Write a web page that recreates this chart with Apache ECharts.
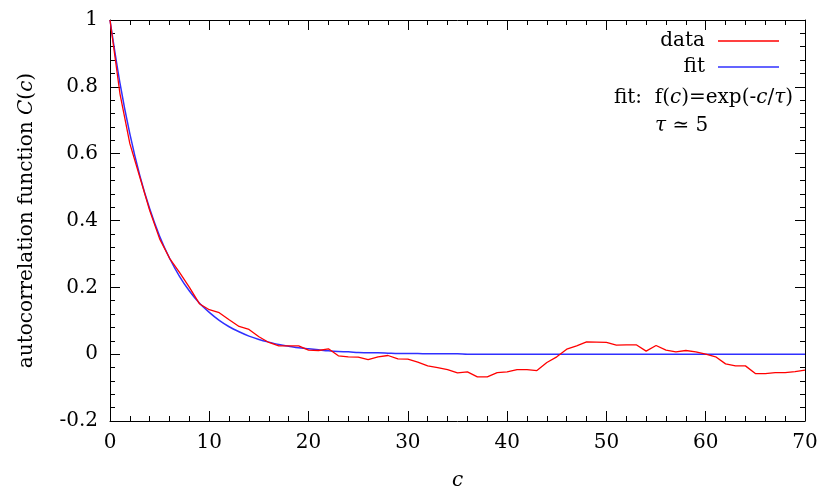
<!DOCTYPE html>
<html>
<head>
<meta charset="utf-8">
<script src="https://cdn.jsdelivr.net/npm/echarts@6/dist/echarts.min.js"></script>
<style>
html,body{margin:0;padding:0;background:#fff;}
#chart{width:819px;height:493px;}
</style>
</head>
<body>
<div id="chart"></div>
<script>
// lag values c
var cValues = [0,1,2,3,4,5,6,7,8,9,10,11,12,13,14,15,16,17,18,19,20,21,22,23,24,25,26,27,28,29,30,31,32,33,34,35,36,37,38,39,40,41,42,43,44,45,46,47,48,49,50,51,52,53,54,55,56,57,58,59,60,61,62,63,64,65,66,67,68,69,70];
var dataValues = [1.0,0.78,0.63,0.53,0.43,0.345,0.287,0.245,0.20,0.151,0.133,0.124,0.103,0.083,0.074,0.052,0.035,0.025,0.025,0.025,0.012,0.011,0.016,-0.005,-0.008,-0.009,-0.016,-0.008,-0.004,-0.014,-0.015,-0.024,-0.035,-0.040,-0.046,-0.056,-0.053,-0.068,-0.068,-0.055,-0.053,-0.046,-0.046,-0.049,-0.025,-0.008,0.015,0.025,0.037,0.036,0.035,0.027,0.028,0.028,0.009,0.026,0.012,0.007,0.011,0.007,0.000,-0.008,-0.029,-0.035,-0.035,-0.058,-0.058,-0.055,-0.055,-0.052,-0.048];
// fit curve values
var fitValues = [1.000,0.812,0.659,0.535,0.435,0.353,0.287,0.233,0.189,0.153,0.125,0.101,0.082,0.067,0.054,0.044,0.036,0.029,0.024,0.019,0.016,0.013,0.010,0.008,0.007,0.005,0.004,0.004,0.003,0.002,0.002,0.002,0.001,0.001,0.001,0.001,0,0,0,0,0,0,0,0,0,0,0,0,0,0,0,0,0,0,0,0,0,0,0,0,0,0,0,0,0,0,0,0,0,0,0];
var xTicks = {min:0, max:70, interval:10};
var yTicks = {min:-0.2, max:1, interval:0.2};

var FONT = 'DejaVu Serif';
var FS = 20;
function pairs(ys){ return cValues.map(function(c,i){ return [c, ys[i]]; }); }

var chart = echarts.init(document.getElementById('chart'), null, {renderer:'canvas'});

var axisCommon = {
  axisLine:{show:true, onZero:false, lineStyle:{color:'#000', width:1}},
  axisTick:{show:true, inside:true, length:10, lineStyle:{color:'#000', width:1}},
  minorTick:{show:true, splitNumber:5, length:5, lineStyle:{color:'#000', width:1}},
  splitLine:{show:false},
  minorSplitLine:{show:false}
};

function xAxis(pos, labels){
  return Object.assign({
    type:'value', position:pos, min:xTicks.min, max:xTicks.max, interval:xTicks.interval,
    axisLabel:{show:labels, color:'#000', fontFamily:FONT, fontSize:FS, margin:12},
  }, axisCommon);
}
function yAxis(pos, labels){
  return Object.assign({
    type:'value', position:pos, min:yTicks.min, max:yTicks.max, interval:yTicks.interval,
    axisLabel:{show:labels, color:'#000', fontFamily:FONT, fontSize:FS, margin:12,
      formatter:function(v){ return String(Math.round(v*10)/10); }},
  }, axisCommon);
}

var xa0 = xAxis('bottom', true);
xa0.name = 'c';
xa0.nameLocation = 'middle';
xa0.nameGap = 50;
xa0.nameTextStyle = {color:'#000', fontFamily:FONT, fontSize:FS, fontStyle:'italic'};
var xa1 = xAxis('top', false);

var ya0 = yAxis('left', true);
ya0.name = 'autocorrelation function {i|C}({i|c})';
ya0.nameLocation = 'middle';
ya0.nameRotate = 90;
ya0.nameGap = 73;
ya0.nameTextStyle = {color:'#000', fontFamily:FONT, fontSize:FS,
  rich:{i:{fontStyle:'italic', fontFamily:FONT, fontSize:FS, color:'#000'}}};
var ya1 = yAxis('right', false);

var legendCommon = {
  orient:'horizontal', align:'right', right:40, padding:0,
  icon:'rect', itemWidth:61, itemHeight:1.5, selectedMode:false,
  textStyle:{color:'#000', fontFamily:FONT, fontSize:FS, padding:[0,8,0,0]}
};

var option = {
  animation:false,
  backgroundColor:'#fff',
  grid:{left:110, right:14, top:20, bottom:72, containLabel:false, outerBoundsMode:'none'},
  xAxis:[xa0, xa1],
  yAxis:[ya0, ya1],
  legend:[
    Object.assign({data:['data'], top:31}, legendCommon),
    Object.assign({data:['fit'], top:57}, legendCommon)
  ],
  graphic:[
    {type:'text', right:26, top:88,
     style:{text:'fit:  f({i|c})=exp(-{i|c}/{i|τ})', fill:'#000', font:FS+'px "'+FONT+'"',
       rich:{i:{fontStyle:'italic', fontFamily:FONT, fontSize:FS, fill:'#000'}}}},
    {type:'text', left:655, top:116,
     style:{text:'{i|τ} ≃ 5', fill:'#000', font:FS+'px "'+FONT+'"',
       rich:{i:{fontStyle:'italic', fontFamily:FONT, fontSize:FS, fill:'#000'}}}}
  ],
  series:[
    {name:'data', type:'line', data:pairs(dataValues), showSymbol:false, symbol:'none',
     color:'#ff0000', lineStyle:{color:'#ff0000', width:1.3}, z:3},
    {name:'fit', type:'line', data:pairs(fitValues), showSymbol:false, symbol:'none', smooth:0.3,
     color:'#3030ff', lineStyle:{color:'#3030ff', width:1.5}, z:2}
  ]
};
chart.setOption(option);
</script>
</body>
</html>
